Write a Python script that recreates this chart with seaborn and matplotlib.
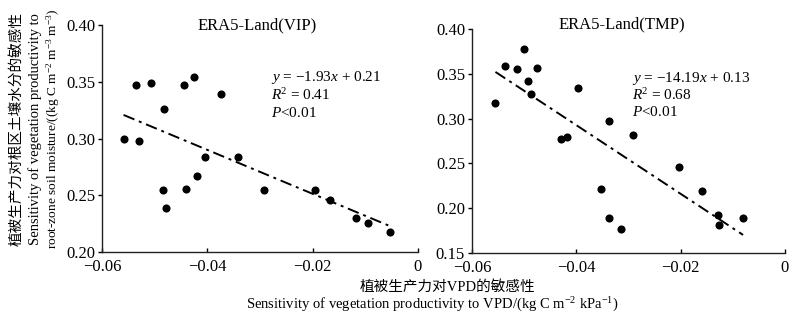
import matplotlib
matplotlib.use("Agg")
import matplotlib.pyplot as plt
import seaborn as sns
import numpy as np
import pandas as pd

# ---- data ----
vip_x = [-0.0559, -0.0536, -0.0529, -0.0507, -0.0483, -0.0484, -0.0478, -0.0444,
         -0.0440, -0.0426, -0.0419, -0.0404, -0.0374, -0.0342, -0.0293, -0.0195,
         -0.0167, -0.0117, -0.0094, -0.0054]
vip_y = [0.2994, 0.347, 0.298, 0.349, 0.3265, 0.2547, 0.2391, 0.3476,
         0.2559, 0.3547, 0.2671, 0.2835, 0.3397, 0.2838, 0.2547, 0.2547,
         0.2462, 0.2300, 0.2256, 0.2176]
tmp_x = [-0.0555, -0.0536, -0.0514, -0.0501, -0.0492, -0.0487, -0.0476, -0.0397,
         -0.0430, -0.0417, -0.0338, -0.0352, -0.0338, -0.0315, -0.0291, -0.0202,
         -0.0158, -0.0128, -0.0126, -0.0080]
tmp_y = [0.317, 0.359, 0.3557, 0.378, 0.3423, 0.328, 0.3563, 0.334,
         0.2776, 0.2798, 0.2977, 0.2218, 0.189, 0.1772, 0.2813, 0.246,
         0.2196, 0.1928, 0.181, 0.189]

titles = ["ERA5-Land(VIP)", "ERA5-Land(TMP)"]
equations = [["$y$ = \u22121.93$x$ + 0.21", "$R$$^2$ = 0.41", "$P$<0.01"],
             ["$y$ = \u221214.19$x$ + 0.13", "$R$$^2$ = 0.68", "$P$<0.01"]]
x_ticks = [-0.06, -0.04, -0.02, 0.0]
x_ticklabels = ["\u22120.06", "\u22120.04", "\u22120.02", "0"]
y_ticks_left = [0.20, 0.25, 0.30, 0.35, 0.40]
y_ticks_right = [0.15, 0.20, 0.25, 0.30, 0.35, 0.40]

ylabel_lines = ["植被生产力对根区土壤水分的敏感性",
                "Sensitivity of vegetation productivity to",
                "root-zone soil moisture/((kg C m$^{-2}$ m$^{-3}$ m$^{-3}$)"]
xlabel_lines = ["植被生产力对VPD的敏感性",
                "Sensitivity of vegetation productivity to VPD/(kg C m$^{-2}$ kPa$^{-1}$)"]

sns.set_style("ticks")
plt.rcParams["font.family"] = ["Liberation Serif", "Noto Sans CJK SC", "DejaVu Serif"]
plt.rcParams["mathtext.fontset"] = "custom"
plt.rcParams["mathtext.rm"] = "Liberation Serif"
plt.rcParams["mathtext.it"] = "Liberation Serif:italic"
plt.rcParams["mathtext.bf"] = "Liberation Serif:bold"
plt.rcParams["axes.unicode_minus"] = True
for key in ["text.color", "axes.labelcolor", "xtick.color", "ytick.color", "axes.edgecolor"]:
    plt.rcParams[key] = "black"

FS_TICK = 12
FS_TITLE = 12
FS_EQ = 11
FS_LAB = 10.5
fig = plt.figure(figsize=(8.0, 3.22), dpi=100)
ax1 = fig.add_axes([0.1275, 0.217, 0.395, 0.705])
ax2 = fig.add_axes([0.590, 0.214, 0.391, 0.696])

panels = [(ax1, vip_x, vip_y, y_ticks_left, (0.20, 0.40), titles[0], equations[0],
           (0.535, [0.771, 0.690, 0.612]), (0.49, 1.0)),
          (ax2, tmp_x, tmp_y, y_ticks_right, (0.15, 0.40), titles[1], equations[1],
           (0.512, [0.781, 0.705, 0.629]), (0.48, 1.02))]

for ax, xs, ys, yt, ylim, title, eq, (ex, eys), (tx, ty) in panels:
    df = pd.DataFrame({"x": xs, "y": ys})
    sns.regplot(data=df, x="x", y="y", ax=ax, ci=None,
                scatter_kws=dict(s=34, color="black", linewidths=0, alpha=1),
                line_kws=dict(color="black", lw=1.4, linestyle=(0, (6, 2.5, 1.5, 2.5))))
    ax.set_xlim(-0.06, 0.0)
    ax.set_ylim(*ylim)
    ax.set_xticks(x_ticks)
    ax.set_xticklabels(x_ticklabels)
    ax.set_yticks(yt)
    ax.set_yticklabels([f"{v:.2f}" for v in yt])
    ax.set_xlabel("")
    ax.set_ylabel("")
    for side in ["top", "right"]:
        ax.spines[side].set_visible(False)
    for side in ["left", "bottom"]:
        ax.spines[side].set_linewidth(1.0)
        ax.spines[side].set_color("#222222")
    ax.tick_params(axis="x", direction="in", length=3, width=1.0, labelsize=FS_TICK, pad=5)
    ax.tick_params(axis="y", direction="out", length=3, width=1.0, labelsize=FS_TICK, pad=2)
    ax.text(tx, ty, title, transform=ax.transAxes, ha="center", va="center", fontsize=FS_TITLE)
    for line, yy in zip(eq, eys):
        ax.text(ex, yy, line, transform=ax.transAxes, ha="left", va="center", fontsize=FS_EQ)

# y label (three rotated lines)
for xp, line, fs in zip([17, 35, 53], ylabel_lines, [10.5, 10.5, 9.6]):
    fig.text(xp / 800, 0.60, line, rotation=90, ha="center", va="center", fontsize=fs)

# x label (two lines)
fig.text(447 / 800, 1 - 287 / 322, xlabel_lines[0], ha="center", va="center", fontsize=FS_LAB)
fig.text(432 / 800, 1 - 305 / 322, xlabel_lines[1], ha="center", va="center", fontsize=FS_LAB)

fig.savefig("out.png", dpi=100)
